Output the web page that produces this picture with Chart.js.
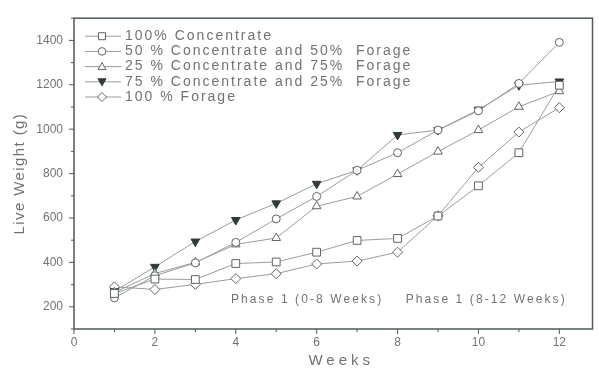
<!DOCTYPE html>
<html>
<head>
<meta charset="utf-8">
<script src="https://cdn.jsdelivr.net/npm/chart.js@4.4.0/dist/chart.umd.min.js"></script>
<style>
  html, body { margin: 0; padding: 0; background: #fff; }
</style>
</head>
<body>
<canvas id="chart" width="599" height="371"></canvas>
<script>
// ---- data ----
const weeks = [1, 2, 3, 4, 5, 6, 7, 8, 9, 10, 11, 12];
const conc100   = [260, 325, 323, 395, 402, 446, 499, 508, 609, 745, 894, 1198];
const conc50    = [240, 340, 398, 490, 596, 697, 815, 894, 996, 1083, 1206, 1391];
const conc25    = [265, 350, 400, 481, 510, 653, 697, 798, 899, 996, 1101, 1171];
const conc75    = [270, 380, 494, 591, 666, 754, 815, 974, 996, 1088, 1198, 1215];
const forage100 = [290, 278, 301, 327, 349, 393, 406, 446, 610, 828, 987, 1097];

const seriesLabels = [
    '100% Concentrate',
    '50 % Concentrate and 50%  Forage',
    '25 % Concentrate and 75%  Forage',
    '75 % Concentrate and 25%  Forage',
    '100 % Forage'
];
const xTicks = [0, 2, 4, 6, 8, 10, 12];
const yTicks = [200, 400, 600, 800, 1000, 1200, 1400];
const phaseLabels = ['Phase 1 (0-8 Weeks)', 'Phase 1 (8-12 Weeks)'];

const LINE = '#9a9d9c';
const MARK = '#5d6663';
const DARK = '#2f3b38';
const TEXT = '#6f7473';

const toPoints = vals => weeks.map((w, i) => ({ x: w, y: vals[i] }));

function series(label, vals, style, extra) {
    return Object.assign({
        label: label,
        data: toPoints(vals),
        borderColor: LINE,
        borderWidth: 1,
        pointStyle: style,
        pointRadius: 4,
        pointBorderWidth: 1,
        pointBorderColor: MARK,
        pointBackgroundColor: '#fff',
        tension: 0
    }, extra || {});
}

const datasets = [
    series(seriesLabels[0], conc100, 'rect', { pointRadius: 5.5 }),
    series(seriesLabels[1], conc50, 'circle', { pointRadius: 4 }),
    series(seriesLabels[2], conc25, 'triangle', { pointRadius: 5 }),
    series(seriesLabels[3], conc75, 'triangle', { pointRadius: 5, pointRotation: 180, pointBackgroundColor: DARK, pointBorderColor: DARK }),
    series(seriesLabels[4], forage100, 'rectRot', { pointRadius: 5 })
];

// small marker drawer for the legend
function marker(ctx, kind, x, y) {
    ctx.save();
    ctx.lineWidth = 1;
    ctx.strokeStyle = MARK;
    ctx.fillStyle = '#fff';
    ctx.beginPath();
    if (kind === 0) {
        ctx.rect(x - 3.5, y - 3.5, 7, 7);
    } else if (kind === 1) {
        ctx.arc(x, y, 3.8, 0, Math.PI * 2);
    } else if (kind === 2) {
        ctx.moveTo(x, y - 4); ctx.lineTo(x + 4, y + 3); ctx.lineTo(x - 4, y + 3); ctx.closePath();
    } else if (kind === 3) {
        ctx.fillStyle = DARK; ctx.strokeStyle = DARK;
        ctx.moveTo(x, y + 4); ctx.lineTo(x + 4, y - 3); ctx.lineTo(x - 4, y - 3); ctx.closePath();
    } else {
        ctx.moveTo(x, y - 4.5); ctx.lineTo(x + 4.5, y); ctx.lineTo(x, y + 4.5); ctx.lineTo(x - 4.5, y); ctx.closePath();
    }
    ctx.fill();
    ctx.stroke();
    ctx.restore();
}

// frame, ticks, legend, titles and phase notes
const decor = {
    id: 'decor',
    beforeDatasetsDraw(chart) {
        const { ctx, chartArea: a, scales } = chart;
        ctx.save();
        ctx.strokeStyle = '#4f5a57';
        ctx.lineWidth = 1.5;
        ctx.strokeRect(a.left, a.top, a.right - a.left, a.bottom - a.top);

        ctx.lineWidth = 1;
        ctx.beginPath();
        for (let v = 100; v <= 1500; v += 100) {
            const y = scales.y.getPixelForValue(v);
            const len = v % 200 === 0 ? 5 : 3;
            ctx.moveTo(a.left, y); ctx.lineTo(a.left - len, y);
        }
        for (let w = 0; w <= 12; w++) {
            const x = scales.x.getPixelForValue(w);
            const len = w % 2 === 0 ? 5 : 3;
            ctx.moveTo(x, a.bottom); ctx.lineTo(x, a.bottom + len);
        }
        ctx.stroke();
        ctx.restore();
    },
    afterDraw(chart) {
        const { ctx, chartArea: a, scales } = chart;
        ctx.save();
        ctx.fillStyle = TEXT;
        ctx.textBaseline = 'middle';

        // legend
        ctx.font = '14px "Liberation Sans", Arial, sans-serif';
        ctx.letterSpacing = '2px';
        seriesLabels.forEach((lab, i) => {
            const y = a.top + 18 + i * 15.2;
            ctx.strokeStyle = LINE;
            ctx.lineWidth = 1;
            ctx.beginPath();
            ctx.moveTo(a.left + 11, y); ctx.lineTo(a.left + 47, y);
            ctx.stroke();
            marker(ctx, i, a.left + 28, y);
            ctx.fillStyle = TEXT;
            ctx.textAlign = 'left';
            ctx.fillText(lab, a.left + 51, y);
        });

        // phase notes
        ctx.font = '12px "Liberation Sans", Arial, sans-serif';
        ctx.letterSpacing = '2.1px';
        const py = scales.y.getPixelForValue(230);
        ctx.fillText(phaseLabels[0], scales.x.getPixelForValue(3.88), py);
        ctx.fillText(phaseLabels[1], scales.x.getPixelForValue(8.2), py);

        // axis titles
        ctx.font = '15px "Liberation Sans", Arial, sans-serif';
        ctx.letterSpacing = '4px';
        ctx.textAlign = 'center';
        ctx.fillText('Weeks', (a.left + a.right) / 2 + 8, 361);

        ctx.letterSpacing = '1.4px';
        ctx.translate(20, (a.top + a.bottom) / 2);
        ctx.rotate(-Math.PI / 2);
        ctx.fillText('Live Weight (g)', 0, 0);
        ctx.restore();
    }
};

new Chart(document.getElementById('chart'), {
    type: 'line',
    data: { datasets: datasets },
    options: {
        responsive: false,
        devicePixelRatio: 1,
        animation: false,
        layout: { padding: { top: 11, right: 4, left: 0, bottom: 0 } },
        plugins: { legend: { display: false }, tooltip: { enabled: false } },
        scales: {
            x: {
                type: 'linear',
                min: 0,
                max: 12.82,
                grid: { display: false, drawTicks: false },
                border: { display: false },
                afterBuildTicks: s => { s.ticks = xTicks.map(v => ({ value: v })); },
                afterFit: s => { s.height = 42; },
                ticks: {
                    padding: 6,
                    color: TEXT,
                    font: { family: '"Liberation Sans", Arial, sans-serif', size: 12 },
                    maxRotation: 0,
                    callback: v => String(v)
                }
            },
            y: {
                min: 100,
                max: 1500,
                grid: { display: false, drawTicks: false },
                border: { display: false },
                afterBuildTicks: s => { s.ticks = yTicks.map(v => ({ value: v })); },
                afterFit: s => { s.width = 74; },
                ticks: {
                    padding: 11,
                    color: TEXT,
                    font: { family: '"Liberation Sans", Arial, sans-serif', size: 12 },
                    callback: v => String(v)
                }
            }
        }
    },
    plugins: [decor]
});
</script>
</body>
</html>
